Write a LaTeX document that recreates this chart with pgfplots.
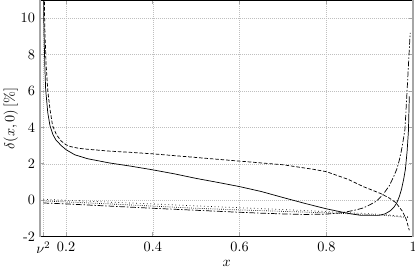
\documentclass[border=0pt]{standalone}
\usepackage{pgfplots}
\pgfplotsset{compat=1.18}
\begin{document}
\begin{tikzpicture}
\begin{axis}[
  scale only axis,
  width=261.3pt, height=165.7pt,
  xmin=0.14, xmax=1.0, ymin=-2, ymax=11,
  xtick={0.148,0.2,0.4,0.6,0.8,1},
  xticklabels={$\nu^2$,0.2,0.4,0.6,0.8,1},
  ytick={-2,0,2,4,6,8,10},
  yticklabels={\mbox{-2},0,2,4,6,8,10},
  grid=major,
  major grid style={gray!50, densely dotted, line width=0.4pt},
  major tick length=3pt,
  every tick/.style={gray!70, line width=0.5pt},
  separate axis lines,
  x axis line style={black, line width=0.8pt},
  y axis line style={gray!70, line width=1.4pt},
  xlabel={$x$},
  ylabel={$\delta(x,0)\,[\%]$},
  xlabel style={yshift=2pt},
  ylabel style={yshift=-5pt},
  clip=true,
]
\coordinate (bl) at (rel axis cs:0,0);
\coordinate (tr) at (rel axis cs:1,1);
% solid
\addplot[black, line width=0.5pt] coordinates {
(0.1475,13) (0.149,9.5) (0.151,7.5) (0.153,6.1) (0.158,4.8) (0.163,4.1)
(0.170,3.6) (0.177,3.3) (0.19,2.98) (0.2,2.78) (0.22,2.5) (0.25,2.28)
(0.3,2.05) (0.35,1.87) (0.4,1.67) (0.45,1.45) (0.5,1.2) (0.55,0.98)
(0.6,0.75) (0.65,0.48) (0.7,0.15) (0.75,-0.17) (0.8,-0.47) (0.85,-0.72)
(0.88,-0.83) (0.92,-0.83) (0.935,-0.75) (0.947,-0.58) (0.955,-0.4)
(0.962,-0.15) (0.968,0.2) (0.973,0.6) (0.978,1.15) (0.982,1.7)
(0.986,2.7) (0.989,3.8) (0.991,5.7)
};
% dashed
\addplot[black, line width=0.5pt, dash pattern=on 2.5pt off 1.3pt] coordinates {
(0.149,13) (0.151,9.5) (0.154,7.5) (0.158,6) (0.163,5) (0.169,4.1)
(0.178,3.6) (0.189,3.25) (0.2,3.05) (0.21,2.95) (0.23,2.85) (0.25,2.8)
(0.3,2.7) (0.35,2.63) (0.4,2.55) (0.5,2.35) (0.6,2.15) (0.7,1.95)
(0.77,1.7) (0.8,1.57) (0.85,1.15) (0.885,0.75) (0.925,0.37)
(0.945,0.12) (0.96,-0.13) (0.975,-0.6) (0.984,-1.05) (0.991,-1.65)
};
% dash-dot
\addplot[black, line width=0.5pt, dash pattern=on 4pt off 1.3pt on 1pt off 1.3pt] coordinates {
(0.148,-0.15) (0.2,-0.2) (0.3,-0.32) (0.4,-0.44) (0.5,-0.55) (0.6,-0.66)
(0.65,-0.71) (0.7,-0.75) (0.75,-0.78) (0.8,-0.76) (0.83,-0.7) (0.85,-0.62)
(0.87,-0.52) (0.885,-0.42) (0.9,-0.25) (0.915,-0.05) (0.93,0.3)
(0.945,0.8) (0.955,1.3) (0.962,1.7) (0.968,2.2) (0.973,2.75) (0.977,3.3)
(0.981,3.9) (0.987,6.5) (0.993,9.2)
};
% dotted 1
\addplot[black, line width=0.5pt, dotted] coordinates {
(0.148,0.05) (0.2,0.0) (0.3,-0.1) (0.4,-0.2) (0.5,-0.31) (0.6,-0.41)
(0.7,-0.51) (0.8,-0.62) (0.9,-0.74) (0.95,-0.82) (0.991,-0.92)
};
% dotted 2
\addplot[black, line width=0.5pt, densely dotted] coordinates {
(0.148,-0.04) (0.2,-0.09) (0.3,-0.2) (0.4,-0.32) (0.5,-0.44) (0.6,-0.53)
(0.7,-0.61) (0.8,-0.69) (0.9,-0.79) (0.95,-0.86) (0.991,-0.96)
};
\end{axis}
\pgfresetboundingbox
\path ([xshift=-28pt,yshift=-28.2pt]bl) rectangle ([xshift=1.26pt]tr);
\end{tikzpicture}
\end{document}
